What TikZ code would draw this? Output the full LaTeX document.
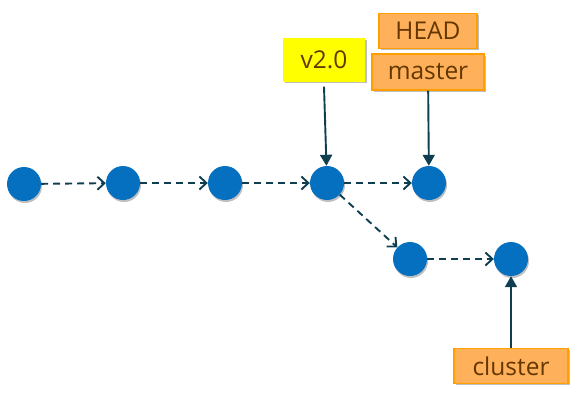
\documentclass[tikz,border=0pt]{standalone}
\usepackage{fontspec}
\setmainfont{Open Sans}
\usetikzlibrary{arrows.meta,shadows}
\definecolor{commitblue}{RGB}{5,112,192}
\definecolor{linkcol}{RGB}{14,62,80}
\definecolor{refor}{RGB}{255,176,90}
\definecolor{refborder}{RGB}{255,160,0}
\definecolor{tagyel}{RGB}{255,255,0}
\definecolor{reftext}{RGB}{100,55,0}
\tikzset{
  commit/.style={circle,fill=commitblue,minimum size=34pt,inner sep=0pt,
    drop shadow={shadow xshift=1pt,shadow yshift=-2pt,opacity=0.25,fill=black}},
  parentlink/.style={draw=linkcol,line width=1.9pt,dash pattern=on 7pt off 5pt,
    -{Straight Barb[length=7pt,width=13pt,line width=1.9pt]}},
  reflink/.style={draw=linkcol,line width=1.9pt,-{Triangle[length=11pt,width=12pt]}},
  refbox/.style={rectangle,fill=refor,draw=refborder,line width=1.2pt,
    text=reftext,font=\fontsize{24.5}{24.5}\selectfont,inner sep=0pt,
    drop shadow={shadow xshift=1.5pt,shadow yshift=-1.5pt,opacity=0.25,fill=black}},
  tagbox/.style={rectangle,fill=tagyel,draw=none,
    text=reftext,font=\fontsize{24.5}{24.5}\selectfont,inner sep=0pt,
    drop shadow={shadow xshift=1.5pt,shadow yshift=-1.5pt,opacity=0.25,fill=black}}
}
\begin{document}
\begin{tikzpicture}[x=1pt,y=-1pt]
\useasboundingbox (0,0) rectangle (580,412);
\node[commit] (c1) at (24,184) {};
\node[commit] (c2) at (123,183) {};
\node[commit] (c3) at (225,183) {};
\node[commit] (c4) at (327,183) {};
\node[commit] (c5) at (429,183) {};
\node[commit] (c6) at (410,259) {};
\node[commit] (c7) at (511,259) {};
\draw[parentlink] (c1) -- (c2);
\draw[parentlink] (c2) -- (c3);
\draw[parentlink] (c3) -- (c4);
\draw[parentlink] (c4) -- (c5);
\draw[parentlink] (c4) -- (c6);
\draw[parentlink] (c6) -- (c7);
\node[tagbox,minimum width=82pt,minimum height=43pt] (tag) at (324,60) {v2.0};
\node[refbox,minimum width=98pt,minimum height=35pt] (head) at (428,31) {HEAD};
\node[refbox,minimum width=112pt,minimum height=36pt] (master) at (428,72) {master};
\node[refbox,minimum width=114pt,minimum height=35pt] (cluster) at (511,366) {cluster};
\coordinate (tagfoot) at ([yshift=-5pt]tag.south);
\draw[reflink] (tagfoot) -- (c4);
\draw[reflink] (master) -- (c5);
\draw[reflink] (cluster) -- (c7);
\end{tikzpicture}
\end{document}
